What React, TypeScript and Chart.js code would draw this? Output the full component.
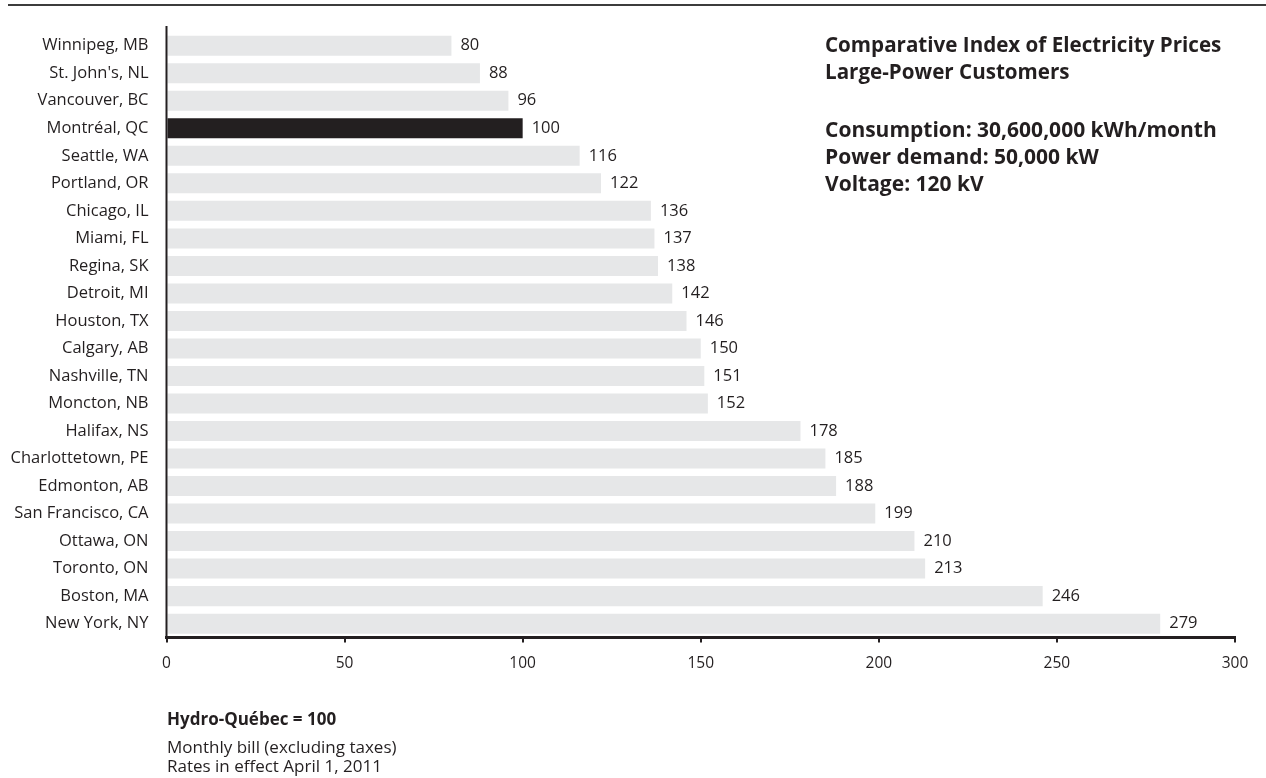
import React, { useEffect, useRef } from "react";
import { Chart, registerables } from "chart.js";

Chart.register(...registerables);

const categories = [
  "Winnipeg, MB",
  "St. John's, NL",
  "Vancouver, BC",
  "Montréal, QC",
  "Seattle, WA",
  "Portland, OR",
  "Chicago, IL",
  "Miami, FL",
  "Regina, SK",
  "Detroit, MI",
  "Houston, TX",
  "Calgary, AB",
  "Nashville, TN",
  "Moncton, NB",
  "Halifax, NS",
  "Charlottetown, PE",
  "Edmonton, AB",
  "San Francisco, CA",
  "Ottawa, ON",
  "Toronto, ON",
  "Boston, MA",
  "New York, NY",
];

const indexValues = [80, 88, 96, 100, 116, 122, 136, 137, 138, 142, 146, 150, 151, 152, 178, 185, 188, 199, 210, 213, 246, 279];

const highlightCity = "Montréal, QC";

const xTicks = [0, 50, 100, 150, 200, 250, 300];

const titleLines = ["Comparative Index of Electricity Prices", "Large-Power Customers"];
const specLines = ["Consumption: 30,600,000 kWh/month", "Power demand: 50,000 kW", "Voltage: 120 kV"];
const noteTitle = "Hydro-Québec = 100";
const noteLines = ["Monthly bill (excluding taxes)", "Rates in effect April 1, 2011"];

const FONT = "'Open Sans', 'Noto Sans', sans-serif";
const INK = "#231f20";
const BAR = "#e6e7e8";

export default function App() {
  const canvasRef = useRef<HTMLCanvasElement | null>(null);

  useEffect(() => {
    const canvas = canvasRef.current;
    if (!canvas) return;

    const decorPlugin = {
      id: "decor",
      beforeDraw(chart: any) {
        const ctx = chart.ctx;
        ctx.save();
        ctx.fillStyle = "#3c3c3c";
        ctx.fillRect(8, 4, chart.width - 8, 2);
        ctx.restore();
      },
      afterDatasetsDraw(chart: any) {
        const ctx = chart.ctx;
        const meta = chart.getDatasetMeta(0);
        const area = chart.chartArea;
        ctx.save();
        // y axis line
        ctx.strokeStyle = INK;
        ctx.lineWidth = 2;
        ctx.beginPath();
        ctx.moveTo(area.left, area.top - 6);
        ctx.lineTo(area.left, area.bottom);
        ctx.stroke();
        // value labels
        ctx.fillStyle = INK;
        ctx.font = `16.5px ${FONT}`;
        ctx.textAlign = "left";
        ctx.textBaseline = "middle";
        meta.data.forEach((bar: any, i: number) => {
          ctx.fillText(String(indexValues[i]), bar.x + 9, bar.y);
        });
        ctx.restore();
      },
    };

    const chart = new Chart(canvas, {
      type: "bar",
      data: {
        labels: categories,
        datasets: [
          {
            data: indexValues,
            backgroundColor: categories.map((c) => (c === highlightCity ? INK : BAR)),
            borderWidth: 0,
            barPercentage: 0.727,
            categoryPercentage: 1,
          },
        ],
      },
      options: {
        indexAxis: "y",
        responsive: false,
        animation: false,
        layout: { padding: { left: 0, right: 31, top: 32, bottom: 93 } },
        plugins: {
          legend: { display: false },
          tooltip: { enabled: false },
          title: { display: false },
        },
        scales: {
          y: {
            grid: { display: false, drawTicks: false },
            border: { display: false },
            afterFit(scale: any) {
              scale.width = 166.5;
            },
            ticks: {
              autoSkip: false,
              padding: 18,
              color: INK,
              font: { family: FONT, size: 16.5 },
            },
          },
          x: {
            min: 0,
            max: 300,
            afterBuildTicks(scale: any) {
              scale.ticks = xTicks.map((v) => ({ value: v }));
            },
            grid: {
              drawOnChartArea: false,
              drawTicks: true,
              tickLength: 5,
              color: INK,
              lineWidth: 2,
            },
            border: { display: true, color: INK, width: 3 },
            ticks: {
              padding: 12,
              color: INK,
              font: { family: FONT, size: 15.5 },
            },
          },
        },
      },
      plugins: [decorPlugin],
    });

    return () => chart.destroy();
  }, []);

  const textBase: React.CSSProperties = {
    position: "absolute",
    fontFamily: FONT,
    color: INK,
    whiteSpace: "nowrap",
    margin: 0,
  };

  return (
    <div style={{ position: "absolute", left: 0, top: 0, width: 1266, height: 778 }}>
      <canvas ref={canvasRef} width={1266} height={778} style={{ display: "block", width: 1266, height: 778 }} />
      <div style={{ ...textBase, left: 825, top: 30.5, fontSize: 20.6, fontWeight: 700, lineHeight: "27px" }}>
        {titleLines.map((t) => (
          <div key={t}>{t}</div>
        ))}
      </div>
      <div style={{ ...textBase, left: 825, top: 115.5, fontSize: 21, fontWeight: 700, lineHeight: "27px" }}>
        {specLines.map((t) => (
          <div key={t}>{t}</div>
        ))}
      </div>
      <div style={{ ...textBase, left: 167, top: 709, fontSize: 17, fontWeight: 700, lineHeight: "19px" }}>
        {noteTitle}
      </div>
      <div style={{ ...textBase, left: 167, top: 737, fontSize: 17, lineHeight: "19px" }}>
        {noteLines.map((t) => (
          <div key={t}>{t}</div>
        ))}
      </div>
    </div>
  );
}
